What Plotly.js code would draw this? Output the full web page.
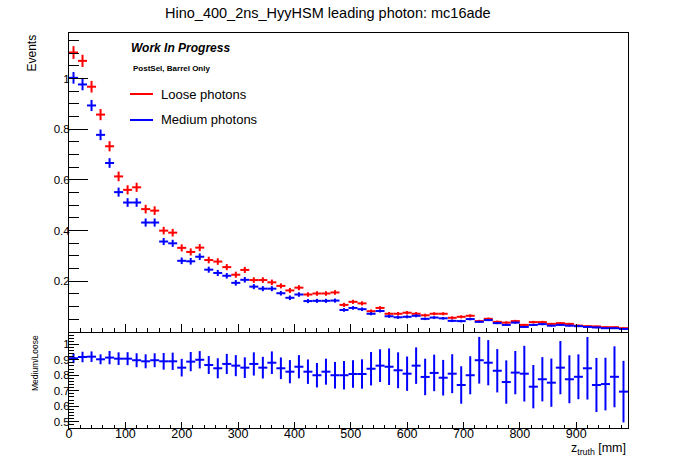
<!DOCTYPE html>
<html>
<head>
<meta charset="utf-8">
<script src="https://cdn.plot.ly/plotly-3.0.1.min.js"></script>
<style>html,body{margin:0;padding:0;background:#fff;}#chart{width:698px;height:476px;}</style>
</head>
<body>
<div id="chart"></div>
<script>
// ---- data ----
const zCenters = [8,24,40,56,72,88,104,120,136,152,168,184,200,216,232,248,264,280,296,312,
  328,344,360,376,392,408,424,440,456,472,488,504,520,536,552,568,584,600,616,632,
  648,664,680,696,712,728,744,760,776,792,808,824,840,856,872,888,904,920,936,952,968,984];
const binHalfWidth = 8;

const loose = [1.103,1.070,0.968,0.858,0.733,0.614,0.561,0.571,0.485,0.479,
  0.400,0.392,0.332,0.316,0.333,0.284,0.278,0.256,0.226,0.245,
  0.205,0.205,0.196,0.182,0.164,0.175,0.148,0.152,0.152,0.156,
  0.107,0.119,0.113,0.082,0.095,0.072,0.072,0.076,0.072,0.066,
  0.072,0.072,0.056,0.060,0.064,0.043,0.052,0.040,0.037,0.043,
  0.028,0.039,0.039,0.032,0.035,0.032,0.025,0.023,0.022,0.019,0.019,0.015];
const looseErr = [0.025,0.024,0.023,0.022,0.020,0.019,0.018,0.018,0.017,0.017,
  0.015,0.015,0.014,0.014,0.014,0.013,0.013,0.012,0.012,0.012,
  0.011,0.011,0.011,0.010,0.010,0.010,0.009,0.009,0.009,0.009,
  0.008,0.008,0.008,0.007,0.007,0.007,0.007,0.007,0.007,0.006,
  0.006,0.006,0.006,0.006,0.006,0.005,0.005,0.005,0.005,0.005,
  0.004,0.005,0.005,0.004,0.004,0.004,0.004,0.004,0.003,0.003,0.003,0.003];

const medium = [1.003,0.977,0.894,0.778,0.667,0.552,0.511,0.511,0.432,0.432,
  0.357,0.350,0.281,0.279,0.297,0.246,0.233,0.222,0.194,0.206,
  0.179,0.171,0.171,0.153,0.135,0.148,0.122,0.123,0.123,0.124,
  0.087,0.095,0.090,0.072,0.083,0.062,0.058,0.060,0.064,0.052,
  0.057,0.054,0.044,0.043,0.051,0.040,0.047,0.035,0.028,0.037,
  0.020,0.028,0.031,0.025,0.028,0.025,0.023,0.020,0.018,0.015,0.015,0.012];
const mediumErr = [0.023,0.023,0.022,0.021,0.019,0.018,0.017,0.017,0.016,0.016,
  0.014,0.014,0.013,0.013,0.013,0.012,0.012,0.011,0.011,0.011,
  0.010,0.010,0.010,0.009,0.009,0.009,0.008,0.008,0.008,0.008,
  0.007,0.007,0.007,0.006,0.006,0.006,0.006,0.006,0.006,0.005,
  0.005,0.005,0.005,0.005,0.005,0.004,0.004,0.004,0.004,0.004,
  0.003,0.004,0.004,0.003,0.003,0.003,0.003,0.003,0.003,0.003,0.003,0.003];

const ratio = [0.910,0.918,0.920,0.903,0.914,0.907,0.907,0.897,0.890,0.897,
  0.890,0.890,0.849,0.888,0.900,0.866,0.845,0.873,0.862,0.849,
  0.873,0.849,0.881,0.845,0.823,0.855,0.823,0.800,0.823,0.800,
  0.800,0.808,0.808,0.842,0.862,0.855,0.832,0.810,0.862,0.789,
  0.815,0.784,0.810,0.737,0.800,0.897,0.881,0.829,0.756,0.817,
  0.810,0.726,0.774,0.752,0.849,0.774,0.790,0.845,0.737,0.743,0.790,0.694];
const ratioErr = [0.032,0.034,0.034,0.032,0.043,0.041,0.042,0.045,0.045,0.045,
  0.054,0.056,0.057,0.062,0.056,0.058,0.065,0.065,0.068,0.067,
  0.075,0.070,0.073,0.070,0.075,0.075,0.079,0.079,0.084,0.086,
  0.092,0.089,0.095,0.108,0.106,0.118,0.116,0.111,0.118,0.118,
  0.118,0.115,0.126,0.121,0.123,0.151,0.146,0.140,0.140,0.140,
  0.180,0.140,0.143,0.156,0.172,0.155,0.145,0.202,0.175,0.170,0.197,0.199];

const xTickVals = [0,100,200,300,400,500,600,700,800,900];
const yTopTickVals = [0.2,0.4,0.6,0.8,1];
const yTopTickText = ["0.2","0.4","0.6","0.8","1"];
const yRatioTickVals = [0.5,0.6,0.7,0.8,0.9,1];
const yRatioTickText = ["0.5","0.6","0.7","0.8","0.9","1"];

// ---- layout helpers (pixel -> paper) ----
const L = 69, R = 628, T = 33, B = 428;
const W = 698, H = 476;
const px = x => (x - L) / (R - L);
const py = y => (B - y) / (B - T);

const RED = '#ff0000', BLUE = '#0000ff';
const FONT = 'Liberation Sans, Arial, Helvetica, sans-serif';

function histTrace(y, err, color, xa, ya) {
  return {
    type: 'scatter', mode: 'markers', x: zCenters, y: y,
    xaxis: xa, yaxis: ya, showlegend: false, hoverinfo: 'skip',
    marker: {size: 2, color: color, opacity: 0},
    error_x: {type: 'constant', value: binHalfWidth, width: 0, thickness: 2, color: color},
    error_y: {type: 'data', array: err, visible: true, width: 0, thickness: 2, color: color}
  };
}

const traces = [
  histTrace(loose, looseErr, RED, 'x', 'y'),
  histTrace(medium, mediumErr, BLUE, 'x', 'y'),
  histTrace(ratio, ratioErr, BLUE, 'x2', 'y2')
];

const axisCommon = {
  showline: true, linecolor: '#000', linewidth: 1, mirror: true,
  showgrid: false, zeroline: false, ticks: 'inside', tickcolor: '#000', tickwidth: 1
};

const layout = {
  width: W, height: H,
  margin: {l: L, r: W - R, t: T, b: H - B, pad: 0},
  paper_bgcolor: '#fff', plot_bgcolor: '#fff',
  font: {family: FONT, color: '#000'},
  showlegend: false,
  xaxis: Object.assign({}, axisCommon, {
    domain: [0, 1], anchor: 'y', range: [0, 992],
    tickvals: xTickVals, showticklabels: false, ticklen: 8,
    minor: {ticks: 'inside', ticklen: 4, dtick: 20, tick0: 0, tickcolor: '#000', showgrid: false}
  }),
  yaxis: Object.assign({}, axisCommon, {
    domain: [py(332), 1], anchor: 'x', range: [0, 1.18],
    tickvals: yTopTickVals, ticktext: yTopTickText, ticklen: 19,
    tickfont: {size: 11.5, family: FONT}, ticklabelstandoff: -4,
    minor: {ticks: 'inside', ticklen: 10, dtick: 0.05, tick0: 0, tickcolor: '#000', showgrid: false}
  }),
  xaxis2: Object.assign({}, axisCommon, {
    domain: [0, 1], anchor: 'y2', range: [0, 992], matches: 'x',
    tickvals: xTickVals, ticklen: 6,
    tickfont: {size: 12.5, family: FONT}, ticklabelstandoff: -6,
    minor: {ticks: 'inside', ticklen: 3, dtick: 20, tick0: 0, tickcolor: '#000', showgrid: false}
  }),
  yaxis2: Object.assign({}, axisCommon, {
    domain: [0, py(333)], anchor: 'x2', range: [0.459, 1.073],
    tickvals: yRatioTickVals, ticktext: yRatioTickText, ticklen: 10,
    tickfont: {size: 11.5, family: FONT}, ticklabelstandoff: -4,
    minor: {ticks: 'inside', ticklen: 5, dtick: 0.02, tick0: 0, tickcolor: '#000', showgrid: false}
  }),
  shapes: [
    {type: 'line', xref: 'paper', yref: 'paper', x0: px(130), x1: px(153), y0: py(94), y1: py(94),
     line: {color: RED, width: 2}},
    {type: 'line', xref: 'paper', yref: 'paper', x0: px(130), x1: px(153), y0: py(120), y1: py(120),
     line: {color: BLUE, width: 2}}
  ],
  annotations: [
    {text: 'Hino_400_2ns_HyyHSM leading photon: mc16ade', xref: 'paper', yref: 'paper',
     x: px(328), y: py(13), xanchor: 'center', yanchor: 'middle', showarrow: false,
     font: {size: 14.5, family: FONT}},
    {text: '<b><i>Work In Progress</i></b>', xref: 'paper', yref: 'paper',
     x: px(129), y: py(48.5), xanchor: 'left', yanchor: 'middle', showarrow: false,
     font: {size: 12, family: FONT}},
    {text: '<b>PostSel, Barrel Only</b>', xref: 'paper', yref: 'paper',
     x: px(131), y: py(68), xanchor: 'left', yanchor: 'middle', showarrow: false,
     font: {size: 8, family: FONT}},
    {text: 'Loose photons', xref: 'paper', yref: 'paper',
     x: px(159), y: py(94), xanchor: 'left', yanchor: 'middle', showarrow: false,
     font: {size: 13, family: FONT}},
    {text: 'Medium photons', xref: 'paper', yref: 'paper',
     x: px(159), y: py(120), xanchor: 'left', yanchor: 'middle', showarrow: false,
     font: {size: 13, family: FONT}},
    {text: 'Events', xref: 'paper', yref: 'paper', textangle: -90,
     x: px(31), y: 1, xanchor: 'center', yanchor: 'top', showarrow: false,
     font: {size: 12, family: FONT}},
    {text: 'Medium/Loose', xref: 'paper', yref: 'paper', textangle: -90,
     x: px(35), y: py(333), xanchor: 'center', yanchor: 'top', showarrow: false,
     font: {size: 8.5, family: FONT}},
    {text: 'z<sub>truth</sub> [mm]', xref: 'paper', yref: 'paper',
     x: 1, y: py(449), xanchor: 'right', yanchor: 'middle', showarrow: false,
     font: {size: 12.5, family: FONT}}
  ]
};

Plotly.newPlot('chart', traces, layout, {staticPlot: true, displayModeBar: false});
</script>
</body>
</html>
